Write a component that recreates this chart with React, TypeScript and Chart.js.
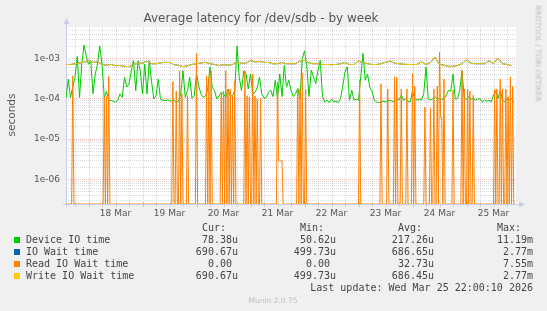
import React, { useEffect, useRef } from "react";
import { Chart, registerables } from "chart.js";

Chart.register(...registerables);

const W = 547;
const H = 311;

// ---- time axis: hours since the left edge of the graph (Mar 17, ~14:00) ----
const HOURS_SPAN = 200;
const FIRST_MIDNIGHT_HOUR = 10; // 18 Mar 00:00
const dayLabels = ["18 Mar", "19 Mar", "20 Mar", "21 Mar", "22 Mar", "23 Mar", "24 Mar", "25 Mar"];

// ---- y axis (log, seconds) ----
const Y_MIN = 2.38e-7;
const Y_MAX = 5.87e-3;
const yTickValues = [1e-3, 1e-4, 1e-5, 1e-6];
const yTickLabels = ["1e-03", "1e-04", "1e-05", "1e-06"];

// ---- Device IO time, microseconds, one sample per hour ----
const DEVICE_STEP_H = 1;
const deviceIoUs = [
  100, 300, 105, 190, 330, 1100, 105, 700, 2100, 1100,
  700, 850, 130, 400, 700, 2000, 700, 105, 150, 90,
  88, 85, 80, 90, 128, 105, 330, 190, 225, 480,
  850, 155, 850, 480, 128, 700, 128, 850, 270, 96,
  115, 300, 96, 90, 88, 90, 88, 85, 90, 80,
  85, 128, 480, 105, 155, 330, 100, 115, 400, 200,
  128, 105, 115, 170, 600, 185, 155, 96, 115, 140,
  128, 105, 170, 115, 115, 155, 2000, 330, 155, 480,
  400, 170, 400, 128, 140, 185, 330, 128, 100, 105,
  140, 160, 110, 280, 100, 400, 110, 650, 190, 280,
  158, 110, 130, 175, 98, 950, 1500, 650, 110, 500,
  340, 230, 500, 870, 110, 81, 90, 78, 95, 81,
  85, 78, 98, 200, 450, 600, 90, 158, 90, 95,
  90, 340, 1300, 280, 400, 190, 150, 90, 81, 78,
  81, 85, 81, 84, 90, 84, 81, 98, 90, 120,
  90, 95, 84, 81, 150, 98, 90, 95, 90, 130,
  600, 95, 90, 98, 110, 95, 98, 95, 98, 120,
  158, 150, 400, 95, 98, 158, 480, 98, 95, 110,
  95, 98, 90, 95, 98, 81, 90, 84, 90, 81,
  120, 150, 98, 158, 90, 81, 98, 90, 98, 80,
];

// ---- IO Wait time / Write IO Wait time, microseconds, one sample per 2 hours ----
const WAIT_STEP_H = 2;
const ioWaitUs = [
  690, 690, 720, 750, 780, 870, 770, 820, 690, 660,
  690, 640, 650, 620, 610, 690, 740, 740, 840, 720,
  720, 750, 780, 770, 680, 660, 610, 640, 690, 720,
  750, 780, 720, 690, 650, 680, 660, 690, 800, 740,
  740, 870, 800, 820, 780, 770, 720, 720, 770, 720,
  720, 720, 840, 870, 750, 720, 720, 690, 690, 680,
  690, 720, 770, 690, 690, 840, 770, 720, 690, 690,
  720, 780, 840, 740, 720, 700, 690, 690, 690, 800,
  690, 770, 1050, 690, 660, 620, 620, 650, 720, 900,
  740, 720, 720, 720, 850, 720, 1000, 720, 690, 640,
];
const writeWaitUs = [
  690, 690, 720, 750, 780, 870, 770, 820, 690, 660,
  690, 640, 650, 620, 610, 690, 740, 740, 840, 720,
  720, 750, 780, 770, 680, 660, 610, 640, 690, 720,
  750, 780, 720, 690, 650, 680, 660, 690, 800, 740,
  740, 870, 800, 820, 780, 770, 720, 720, 770, 720,
  720, 720, 840, 870, 750, 720, 720, 690, 690, 680,
  690, 720, 770, 690, 690, 840, 770, 720, 690, 690,
  720, 780, 840, 740, 720, 700, 690, 690, 690, 800,
  690, 770, 1050, 690, 660, 620, 620, 650, 720, 900,
  740, 720, 720, 720, 850, 720, 1000, 720, 690, 640,
];

// ---- Read IO Wait time: zero except at these half-hour samples ----
const READ_STEP_H = 0.5;
const readSpikeHours = [
  3, 17, 18, 19, 47.5, 49, 50.5, 51.5, 54, 58,
  62.5, 63.5, 64.5, 69, 70, 71, 72, 73, 74, 75,
  79.5, 80.5, 81.5, 83, 84, 85, 86.5, 94, 94.5, 95,
  95.5, 96, 103, 104, 105, 106.5, 130.5, 140, 143, 146,
  147, 149, 151.5, 154, 155, 159.5, 162, 163.5, 165, 166,
  166.5, 167, 168, 172, 176, 177, 178.5, 179.5, 181, 190.5,
  191.5, 193, 194, 195.5, 196.5, 197.5, 198.5,
];
const readSpikeUs = [
  360, 110, 110, 350, 260, 150, 480, 130, 115, 1300,
  360, 330, 480, 140, 150, 480, 170, 170, 115, 270,
  480, 115, 105, 400, 115, 96, 100, 250, 2.8, 2.8,
  2.8, 2.8, 170, 170, 420, 170, 280, 230, 170, 340,
  330, 170, 170, 410, 200, 60, 56, 170, 200, 1400,
  34, 34, 300, 160, 490, 170, 170, 150, 120, 170,
  170, 300, 170, 170, 110, 340, 200,
];
const READ_SAMPLES = 400;

// ---- legend ----
const seriesNames = ["Device IO time", "IO Wait time", "Read IO Wait time", "Write IO Wait time"];
const seriesColors = ["#00CC00", "#0066B3", "#FF8000", "#FFCC00"];
const legendHeaders = ["Cur:", "Min:", "Avg:", "Max:"];
const curValues = ["78.38u", "690.67u", "0.00 ", "690.67u"];
const minValues = ["50.62u", "499.73u", "0.00 ", "499.73u"];
const avgValues = ["217.26u", "686.65u", "32.73u", "686.45u"];
const maxValues = ["11.19m", "2.77m", "7.55m", "2.77m"];
const lastUpdate = "Last update: Wed Mar 25 22:00:10 2026";

const US = 1e-6;
const toPoints = (vals: number[], step: number) =>
  vals.map((v, i) => ({ x: i * step, y: v > 0 ? v * US : Y_MIN }));

const deviceData = toPoints(deviceIoUs, DEVICE_STEP_H);
const ioWaitData = toPoints(ioWaitUs, WAIT_STEP_H);
const writeWaitData = toPoints(writeWaitUs, WAIT_STEP_H);
const readTable: number[] = new Array(READ_SAMPLES).fill(0);
readSpikeHours.forEach((h, i) => {
  readTable[Math.round(h / READ_STEP_H)] = readSpikeUs[i];
});
const readData = toPoints(readTable, READ_STEP_H);

const MINOR = "rgba(140,140,140,0.3)";
const MAJOR = "rgba(230,80,80,0.38)";
const AXIS = "#C8CEEA";
const FONT_COLOR = "#555555";

const rrdPlugin = {
  id: "rrdGrid",
  beforeDatasetsDraw(chart: any) {
    const { ctx, chartArea: a, scales } = chart;
    const x = scales.x;
    const y = scales.y;
    ctx.save();
    ctx.fillStyle = "#FFFFFF";
    ctx.fillRect(a.left, a.top, a.right - a.left, a.bottom - a.top);
    ctx.lineWidth = 1;
    const hline = (v: number, color: string) => {
      const py = Math.round(y.getPixelForValue(v)) + 0.5;
      ctx.strokeStyle = color;
      ctx.beginPath();
      ctx.moveTo(a.left, py);
      ctx.lineTo(a.right, py);
      ctx.stroke();
    };
    const vline = (h: number, color: string) => {
      const px = Math.round(x.getPixelForValue(h)) + 0.5;
      ctx.strokeStyle = color;
      ctx.setLineDash([1, 1]);
      ctx.beginPath();
      ctx.moveTo(px, a.top);
      ctx.lineTo(px, a.bottom);
      ctx.stroke();
      ctx.setLineDash([]);
      ctx.beginPath();
      ctx.moveTo(px, a.bottom - 2);
      ctx.lineTo(px, a.bottom + 3);
      ctx.stroke();
    };
    ctx.setLineDash([1, 1]);
    for (let e = -7; e <= -3; e++) {
      for (let m = 2; m <= 9; m++) {
        const v = m * Math.pow(10, e);
        if (v > y.min && v < y.max) hline(v, MINOR);
      }
    }
    yTickValues.forEach((v) => hline(v, MAJOR));
    for (let h = FIRST_MIDNIGHT_HOUR % 6; h <= HOURS_SPAN; h += 6) {
      if ((h - FIRST_MIDNIGHT_HOUR) % 24 !== 0) vline(h, MINOR);
    }
    dayLabels.forEach((_, i) => vline(FIRST_MIDNIGHT_HOUR + 24 * i, MAJOR));

    // axes with arrows
    ctx.setLineDash([]);
    ctx.strokeStyle = AXIS;
    ctx.fillStyle = AXIS;
    const lx = Math.round(a.left) + 0.5;
    const by = Math.round(a.bottom) + 0.5;
    ctx.beginPath();
    ctx.moveTo(lx, a.bottom + 3);
    ctx.lineTo(lx, a.top - 4);
    ctx.moveTo(a.left - 3, by);
    ctx.lineTo(a.right + 4, by);
    ctx.stroke();
    ctx.beginPath();
    ctx.moveTo(lx, a.top - 9);
    ctx.lineTo(lx - 3, a.top - 3);
    ctx.lineTo(lx + 3, a.top - 3);
    ctx.closePath();
    ctx.fill();
    ctx.beginPath();
    ctx.moveTo(a.right + 9, by);
    ctx.lineTo(a.right + 3, by - 3);
    ctx.lineTo(a.right + 3, by + 3);
    ctx.closePath();
    ctx.fill();

    // tick labels
    ctx.fillStyle = FONT_COLOR;
    ctx.font = '9px "DejaVu Sans"';
    ctx.textAlign = "right";
    ctx.textBaseline = "middle";
    yTickValues.forEach((v, i) => {
      ctx.fillText(yTickLabels[i], a.left - 6, y.getPixelForValue(v) + 0.5);
    });
    ctx.textAlign = "center";
    dayLabels.forEach((label, i) => {
      ctx.fillText(label, x.getPixelForValue(FIRST_MIDNIGHT_HOUR + 12 + 24 * i), a.bottom + 9.5);
    });
    ctx.restore();
  },
};

const mono = '"DejaVu Sans Mono", monospace';
const sans = '"DejaVu Sans", sans-serif';

function Txt(props: {
  x: number; top: number; align?: "left" | "right" | "center"; size?: number; lh?: number;
  color?: string; family?: string; children: React.ReactNode;
}) {
  const { x, top, align = "left", size = 10, lh = 12, color = "#444444", family = mono } = props;
  const style: React.CSSProperties = {
    position: "absolute", top, fontFamily: family, fontSize: size, lineHeight: lh + "px",
    color, whiteSpace: "pre", margin: 0,
  };
  if (align === "left") style.left = x;
  else if (align === "right") { style.right = W - x; style.textAlign = "right"; }
  else { style.left = x - 200; style.width = 400; style.textAlign = "center"; }
  return <div style={style}>{props.children}</div>;
}

export default function App() {
  const ref = useRef<HTMLCanvasElement>(null);
  useEffect(() => {
    document.body.style.margin = "0";
    const chart = new Chart(ref.current as HTMLCanvasElement, {
      type: "line",
      data: {
        datasets: [
          { label: seriesNames[3], data: writeWaitData, borderColor: seriesColors[3], order: 0 },
          { label: seriesNames[2], data: readData, borderColor: seriesColors[2], order: 1 },
          { label: seriesNames[1], data: ioWaitData, borderColor: seriesColors[1], order: 2 },
          { label: seriesNames[0], data: deviceData, borderColor: seriesColors[0], order: 3 },
        ],
      },
      options: {
        responsive: false,
        animation: false,
        devicePixelRatio: 1,
        events: [],
        layout: { padding: { left: 66, top: 27, right: 31, bottom: 107 } },
        plugins: { legend: { display: false }, tooltip: { enabled: false }, title: { display: false } },
        elements: { point: { radius: 0 }, line: { borderWidth: 1, tension: 0 } },
        scales: {
          x: { type: "linear", min: 0, max: HOURS_SPAN, display: false },
          y: { type: "logarithmic", min: Y_MIN, max: Y_MAX, display: false },
        },
      } as any,
      plugins: [rrdPlugin],
    });
    return () => chart.destroy();
  }, []);

  const valueCols = [curValues, minValues, avgValues, maxValues];
  const valueRight = [238, 336, 434, 533];
  const rowTops = [234, 246, 258, 270];

  return (
    <div style={{ position: "absolute", left: 0, top: 0, width: W, height: H, background: "#F0F0F0", overflow: "hidden" }}>
      <canvas ref={ref} width={W} height={H} style={{ position: "absolute", left: 0, top: 0, width: W, height: H }} />
      <Txt x={261} top={11} align="center" size={12} lh={14} color={FONT_COLOR} family={sans}>
        Average latency for /dev/sdb - by week
      </Txt>
      <div style={{
        position: "absolute", left: 11.4 - 30, top: 115 - 7, width: 60, height: 14, lineHeight: "14px",
        fontFamily: sans, fontSize: 10.5, color: FONT_COLOR, textAlign: "center", transform: "rotate(-90deg)",
      }}>seconds</div>
      <div style={{
        position: "absolute", left: 537.6 - 60, top: 53.5 - 4.5, width: 120, height: 9, lineHeight: "9px",
        fontFamily: sans, fontSize: 7.5, color: "#BDBDBD", textAlign: "center", transform: "rotate(90deg)", whiteSpace: "pre",
      }}>RRDTOOL / TOBI OETIKER</div>
      {legendHeaders.map((h, i) => (
        <Txt key={h} x={valueRight[i] - 12} top={222} align="right">{h}</Txt>
      ))}
      {seriesNames.map((name, r) => (
        <React.Fragment key={name}>
          <div style={{ position: "absolute", left: 14, top: rowTops[r] + 3, width: 6, height: 6, background: seriesColors[r] }} />
          <Txt x={26} top={rowTops[r]}>{name}</Txt>
          {valueCols.map((col, c) => (
            <Txt key={c} x={valueRight[c]} top={rowTops[r]} align="right">{col[r]}</Txt>
          ))}
        </React.Fragment>
      ))}
      <Txt x={533} top={282} align="right">{lastUpdate}</Txt>
      <Txt x={273} top={296} align="center" size={7.5} lh={9} color="#C0C0C0" family={sans}>Munin 2.0.75</Txt>
    </div>
  );
}
